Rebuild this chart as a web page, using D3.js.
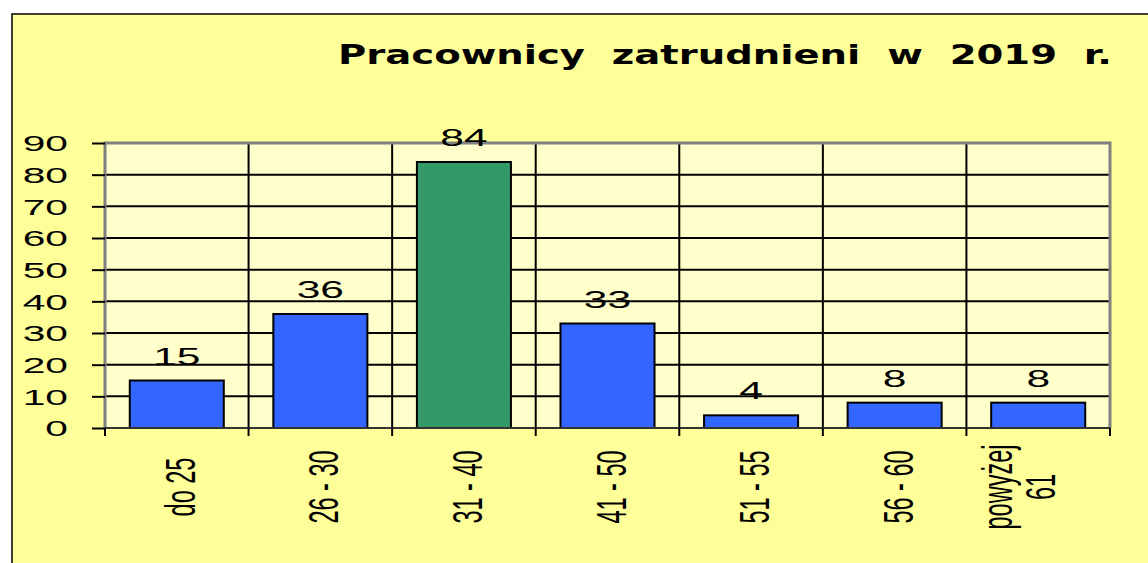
<!DOCTYPE html>
<html>
<head>
<meta charset="utf-8">
<script src="https://cdn.jsdelivr.net/npm/d3@7"></script>
<style>
  html, body { margin: 0; padding: 0; background: #ffffff; }
  svg { display: block; }
</style>
</head>
<body>
<div id="chart"></div>
<script>
// Chart data
const categories = ["do 25", "26 - 30", "31 - 40", "41 - 50", "51 - 55", "56 - 60", "powyżej\n61"];
const values = [15, 36, 84, 33, 4, 8, 8];
const yTicks = [0, 10, 20, 30, 40, 50, 60, 70, 80, 90];
const highlight = "31 - 40";
const title = "Pracownicy  zatrudnieni  w  2019  r.";

// Dimensions
const W = 1148, H = 563;
const plot = { left: 105, right: 1110, top: 143, bottom: 428 };

const colors = {
  outer: "#FFFF99",
  plotBg: "#FFFFCC",
  bar: "#3366FF",
  barHi: "#339966",
  grid: "#000000",
  frame: "#808080",
  text: "#000000"
};

const svg = d3.select("#chart").append("svg")
    .attr("width", W)
    .attr("height", H);

// Outer chart area
svg.append("rect")
    .attr("x", 12).attr("y", 14)
    .attr("width", W + 10).attr("height", H + 10)
    .attr("fill", colors.outer)
    .attr("stroke", "#000").attr("stroke-width", 1.5);

// Scales
const x = d3.scaleBand().domain(categories).range([plot.left, plot.right]).padding(0);
const y = d3.scaleLinear().domain([0, 90]).range([plot.bottom, plot.top]);

// Plot background
svg.append("rect")
    .attr("x", plot.left).attr("y", plot.top)
    .attr("width", plot.right - plot.left).attr("height", plot.bottom - plot.top)
    .attr("fill", colors.plotBg);

// Horizontal gridlines
svg.append("g").selectAll("line")
    .data(yTicks.filter(d => d > 0 && d < 90))
  .enter().append("line")
    .attr("x1", plot.left).attr("x2", plot.right)
    .attr("y1", d => y(d)).attr("y2", d => y(d))
    .attr("stroke", colors.grid).attr("stroke-width", 2);

// Vertical gridlines at category boundaries
const bounds = categories.map(c => x(c)).concat([plot.right]);
svg.append("g").selectAll("line")
    .data(bounds.slice(1, -1))
  .enter().append("line")
    .attr("x1", d => d).attr("x2", d => d)
    .attr("y1", plot.top).attr("y2", plot.bottom)
    .attr("stroke", colors.grid).attr("stroke-width", 2);

// Plot frame (top, left, right)
svg.append("path")
    .attr("d", `M${plot.left},${plot.bottom}V${plot.top}H${plot.right}V${plot.bottom}`)
    .attr("fill", "none")
    .attr("stroke", colors.frame).attr("stroke-width", 3);

// Bars
const bw = x.bandwidth() * 0.655;
const off = (x.bandwidth() - bw) / 2;
svg.append("g").selectAll("rect")
    .data(values)
  .enter().append("rect")
    .attr("x", (d, i) => x(categories[i]) + off)
    .attr("width", bw)
    .attr("y", d => y(d))
    .attr("height", d => plot.bottom - y(d))
    .attr("fill", (d, i) => categories[i] === highlight ? colors.barHi : colors.bar)
    .attr("stroke", "#000").attr("stroke-width", 2);

// Bottom axis line and boundary ticks
svg.append("line")
    .attr("x1", plot.left).attr("x2", plot.right)
    .attr("y1", plot.bottom).attr("y2", plot.bottom)
    .attr("stroke", "#333").attr("stroke-width", 2);
svg.append("g").selectAll("line")
    .data(bounds)
  .enter().append("line")
    .attr("x1", d => d).attr("x2", d => d)
    .attr("y1", plot.bottom).attr("y2", plot.bottom + 8)
    .attr("stroke", "#000").attr("stroke-width", 2);

// Left axis
const yAxis = svg.append("g")
    .attr("transform", `translate(${plot.left},0)`)
    .call(d3.axisLeft(y).tickValues(yTicks).tickSize(13));
yAxis.select(".domain").remove();
yAxis.selectAll(".tick line").attr("stroke", "#000").attr("stroke-width", 2);
yAxis.selectAll(".tick text")
    .attr("x", 0)
    .attr("dy", "0.36em")
    .attr("transform", "translate(-37,0) scale(1.85,1)")
    .style("font-family", "'Liberation Sans', Arial, sans-serif")
    .style("font-size", "22px")
    .style("fill", colors.text);

// Category labels (rotated, compressed)
const xLabels = svg.append("g").selectAll("text")
    .data(categories)
  .enter().append("text")
    .attr("text-anchor", "middle")
    .attr("transform", d => `translate(${x(d) + x.bandwidth() / 2 + 18},487) rotate(-90) scale(0.56,1)`)
    .style("font-family", "'Liberation Sans', Arial, sans-serif")
    .style("font-size", "42px")
    .style("fill", colors.text);
xLabels.each(function(d) {
  const lines = d.split("\n");
  const t = d3.select(this);
  if (lines.length === 1) {
    t.text(d);
  } else {
    t.append("tspan").attr("x", 0).attr("y", -44).text(lines[0]);
    t.append("tspan").attr("x", 0).attr("y", -1).text(lines[1]);
  }
});

// Value labels
svg.append("g").selectAll("text")
    .data(values)
  .enter().append("text")
    .attr("text-anchor", "middle")
    .attr("transform", (d, i) => `translate(${x(categories[i]) + x.bandwidth() / 2},${y(d) - 16}) scale(1.85,1)`)
    .style("font-family", "'Liberation Sans', Arial, sans-serif")
    .style("font-size", "23px")
    .style("fill", colors.text)
    .text(d => d);

// Title
svg.append("text")
    .attr("x", 338).attr("y", 64)
    .attr("textLength", 774)
    .attr("lengthAdjust", "spacingAndGlyphs")
    .style("font-family", "'DejaVu Sans', Verdana, sans-serif")
    .style("font-size", "26px")
    .style("font-weight", "bold")
    .style("fill", colors.text)
    .style("white-space", "pre")
    .text(title);
</script>
</body>
</html>
